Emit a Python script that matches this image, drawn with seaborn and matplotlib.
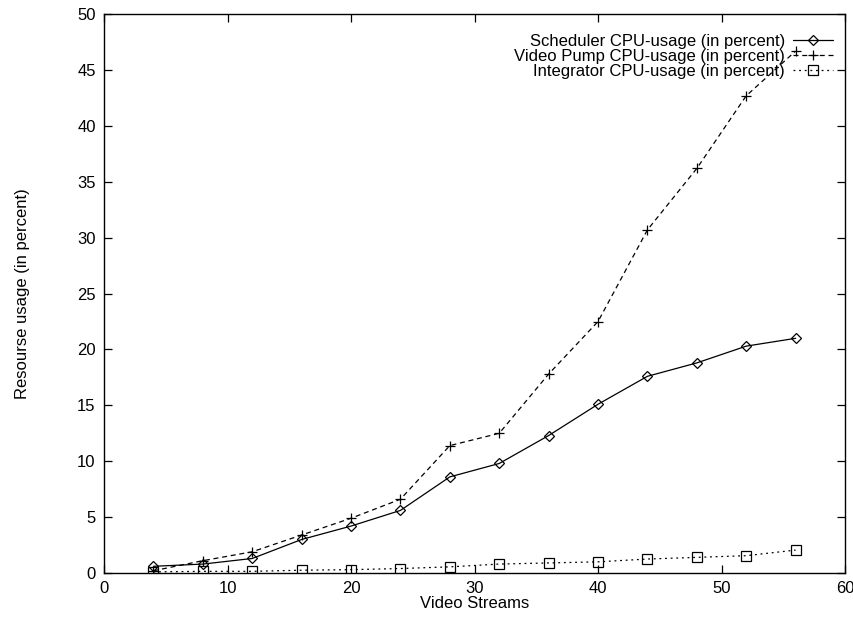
import matplotlib
matplotlib.use("Agg")
import matplotlib.pyplot as plt
import seaborn as sns
import pandas as pd

streams = [4, 8, 12, 16, 20, 24, 28, 32, 36, 40, 44, 48, 52, 56]
scheduler = [0.6, 0.8, 1.3, 3.0, 4.2, 5.6, 8.6, 9.8, 12.3, 15.1, 17.6, 18.8, 20.3, 21.0]
video_pump = [0.2, 1.1, 1.9, 3.4, 4.9, 6.6, 11.4, 12.5, 17.8, 22.5, 30.7, 36.2, 42.7, 46.7]
integrator = [0.1, 0.15, 0.15, 0.25, 0.3, 0.4, 0.55, 0.8, 0.9, 1.0, 1.25, 1.4, 1.55, 2.05]

labels = ["Scheduler CPU-usage (in percent)",
          "Video Pump CPU-usage (in percent)",
          "Integrator CPU-usage (in percent)"]

sns.set_theme(style="ticks")
plt.rcParams['font.family'] = ['Liberation Sans', 'DejaVu Sans']
plt.rcParams['text.color'] = 'black'
plt.rcParams['axes.labelcolor'] = 'black'

fig = plt.figure(figsize=(8.54, 6.17), dpi=100)
ax = fig.add_axes([0.1218, 0.0713, 0.8677, 0.9057])

series = [(scheduler, "-", "D", 5),
          (video_pump, (0, (4, 3)), "+", 7),
          (integrator, (0, (1.5, 3)), "s", 7)]

for (vals, ls, mk, ms), lab in zip(series, labels):
    df = pd.DataFrame({"x": streams, "y": vals})
    sns.lineplot(data=df, x="x", y="y", ax=ax, color="black", linewidth=0.9,
                 linestyle=ls, marker=mk, markersize=ms, markerfacecolor="none",
                 markeredgecolor="black", markeredgewidth=0.9, label=lab)

ax.set_xlim(0, 60)
ax.set_ylim(0, 50)
ax.set_xticks(range(0, 61, 10))
ax.set_yticks(range(0, 51, 5))
ax.tick_params(direction="in", top=True, right=True, length=6, width=0.9,
               labelsize=12, colors="black", pad=6)
for s in ax.spines.values():
    s.set_linewidth(1.0)
    s.set_color("black")
ax.set_xlabel("Video Streams", fontsize=12, labelpad=0)
ax.set_ylabel("Resourse usage (in percent)", fontsize=12, labelpad=34)

leg = ax.legend(loc="upper right", bbox_to_anchor=(1.0, 0.985), frameon=False,
                markerfirst=False, fontsize=12, handlelength=2.4, handletextpad=0.5,
                labelspacing=0.0, borderaxespad=0.3)
for t in leg.get_texts():
    t.set_ha("right")
    t.set_color("black")
leg._legend_box.align = "right"

fig.savefig("out.png", dpi=100)
